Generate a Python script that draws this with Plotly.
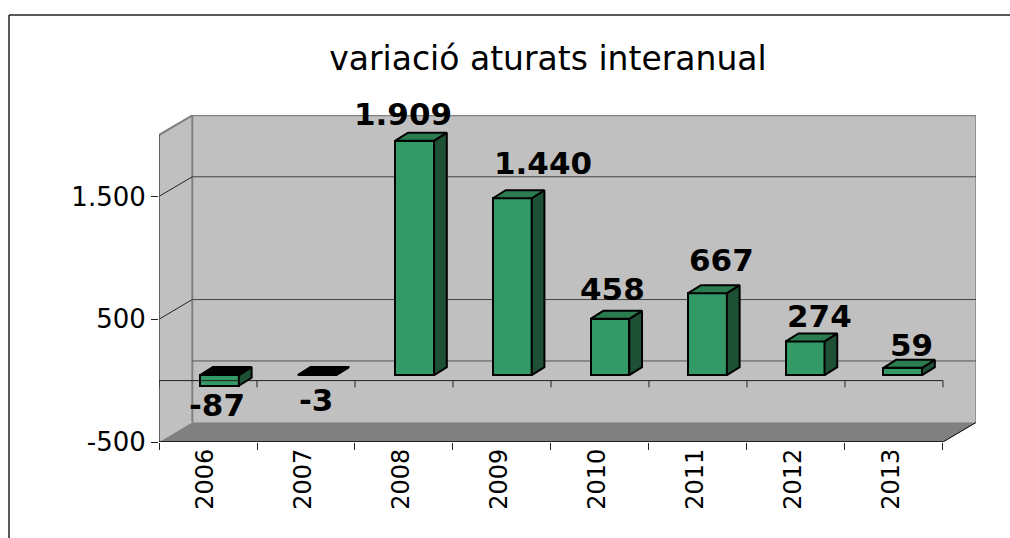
import plotly.graph_objects as go

# ---- data ----
YEARS = ["2006", "2007", "2008", "2009", "2010", "2011", "2012", "2013"]
VALUES = [-87, -3, 1909, 1440, 458, 667, 274, 59]
LABELS = ["-87", "-3", "1.909", "1.440", "458", "667", "274", "59"]
Y_TICKS = [-500, 500, 1500]
Y_TICK_LABELS = ["-500", "500", "1.500"]
TITLE = "variació aturats interanual"

# ---- hand-placed data label offsets (px) ----
LABEL_DX = [-3, -1, -12, 31, 3, 14, 14, 9]
LABEL_DY = [19, 25, -27, -35, -30, -33, -25, -23]

# ---- geometry of the pseudo-3D box, in axis units ----
N = len(YEARS)
FONT = "DejaVu Sans"
Y_MIN, Y_MAX = -500, 2000
Y_RANGE_TOP = 2163
X_RANGE_TOP = 8.337
WALL_DX, WALL_DY = 0.34, 160
BAR_START, BAR_PITCH, BAR_W = 0.42, 0.996, 0.395
BAR_DX, BAR_DY = 0.13, 65
BAR_BASE = 45
GREEN, GREEN_TOP, GREEN_SIDE = "#339966", "#2B7D50", "#1E5035"

fig = go.Figure()
shapes = []


def poly(points, fill, line=None, width=0):
    path = "M " + " L ".join(f"{x},{y}" for x, y in points) + " Z"
    shapes.append(dict(type="path", path=path, xref="x", yref="y", layer="below",
                       fillcolor=fill, line=dict(color=line or fill, width=width)))


def seg(x0, y0, x1, y1, color="black", width=1):
    shapes.append(dict(type="line", x0=x0, y0=y0, x1=x1, y1=y1, xref="x", yref="y",
                       layer="below", line=dict(color=color, width=width)))


# walls and floor
poly([(0, Y_MIN), (WALL_DX, Y_MIN + WALL_DY), (WALL_DX, Y_MAX + WALL_DY), (0, Y_MAX)], "#C0C0C0")
poly([(WALL_DX, Y_MIN + WALL_DY), (N + WALL_DX, Y_MIN + WALL_DY),
      (N + WALL_DX, Y_MAX + WALL_DY), (WALL_DX, Y_MAX + WALL_DY)], "#C0C0C0")
poly([(0, Y_MIN), (N, Y_MIN), (N + WALL_DX, Y_MIN + WALL_DY), (WALL_DX, Y_MIN + WALL_DY)], "#808080")

# wall edges
seg(WALL_DX, Y_MIN + WALL_DY, WALL_DX, Y_MAX + WALL_DY, "#808080", 2)
seg(WALL_DX, Y_MAX + WALL_DY, N + WALL_DX, Y_MAX + WALL_DY, "#808080", 2)
seg(N + WALL_DX, Y_MIN + WALL_DY, N + WALL_DX, Y_MAX + WALL_DY, "#808080", 2)
seg(0, Y_MAX, WALL_DX, Y_MAX + WALL_DY, "#808080", 2)

# gridlines on walls
for t in Y_TICKS[1:]:
    seg(0, t, WALL_DX, t + WALL_DY, "#222222", 1)
    seg(WALL_DX, t + WALL_DY, N + WALL_DX, t + WALL_DY, "#444444", 1)
seg(WALL_DX, WALL_DY, N + WALL_DX, WALL_DY, "#555555", 1)

# front axes
seg(0, Y_MIN, 0, Y_MAX, "#444444", 1.5)
seg(0, Y_MIN, N, Y_MIN, "black", 1.5)
seg(N, Y_MIN, N + WALL_DX, Y_MIN + WALL_DY, "black", 1)

# category axis at zero, with its ticks
zx, zy = [0, N, None], [0, 0, None]
for i in range(N + 1):
    zx += [i, i, None]
    zy += [0, -55, None]
fig.add_trace(go.Scatter(x=zx, y=zy, mode="lines", line=dict(color="#222222", width=1),
                         hoverinfo="skip", showlegend=False))

# bar fronts
xs0 = [BAR_START + i * BAR_PITCH for i in range(N)]
centers = [x + BAR_W / 2 for x in xs0]
fig.add_trace(go.Bar(x=centers, y=VALUES, base=BAR_BASE, width=BAR_W,
                     marker=dict(color=GREEN, line=dict(color="black", width=2)),
                     showlegend=False))

# bar sides and tops
for x0, v in zip(xs0, VALUES):
    x1 = x0 + BAR_W
    hi = BAR_BASE + max(v, 0)
    lo = BAR_BASE + min(v, 0)
    if hi - lo > 10:
        fig.add_trace(go.Scatter(
            x=[x1, x1, x1 + BAR_DX, x1 + BAR_DX, x1],
            y=[lo, hi, hi + BAR_DY, lo + BAR_DY, lo],
            mode="lines", fill="toself", fillcolor=GREEN_SIDE,
            line=dict(color="black", width=2), hoverinfo="skip", showlegend=False))
    fig.add_trace(go.Scatter(
        x=[x0, x1, x1 + BAR_DX, x0 + BAR_DX, x0],
        y=[hi, hi, hi + BAR_DY, hi + BAR_DY, hi],
        mode="lines", fill="toself", fillcolor=GREEN_TOP if v > 0 else "black",
        line=dict(color="black", width=2), hoverinfo="skip", showlegend=False))

# year labels sit on a second axis, tick marks on the first
fig.add_trace(go.Scatter(x=[0], y=[0], xaxis="x2", mode="markers", opacity=0,
                         hoverinfo="skip", showlegend=False))

annotations = [
    dict(x=c, y=BAR_BASE + v, xref="x", yref="y", text=lab, showarrow=False,
         xshift=dx, yshift=-dy, xanchor="center", yanchor="middle",
         font=dict(family=FONT, size=31, color="black", weight="bold"))
    for c, v, lab, dx, dy in zip(centers, VALUES, LABELS, LABEL_DX, LABEL_DY)
]

# outer frame (only the left and top edges are inside the picture)
FX, FY = -150 / 817, 427 / 327
shapes.append(dict(type="line", xref="paper", yref="paper", x0=FX, x1=FX, y0=-0.4, y1=FY,
                   layer="below", line=dict(color="#222222", width=1.5)))
shapes.append(dict(type="line", xref="paper", yref="paper", x0=FX, x1=1.1, y0=FY, y1=FY,
                   layer="below", line=dict(color="#222222", width=1.5)))

fig.update_layout(
    width=1010, height=538,
    margin=dict(l=159, r=34, t=115, b=96),
    paper_bgcolor="white", plot_bgcolor="rgba(0,0,0,0)",
    autosize=False, showlegend=False, bargap=0,
    font=dict(family=FONT, color="black"),
    title=dict(text=TITLE, x=548 / 1010, y=1 - 58 / 538,
               xanchor="center", yanchor="middle", xref="container", yref="container",
               font=dict(family=FONT, size=33, color="black")),
    xaxis=dict(range=[0, X_RANGE_TOP], tickmode="array", tickvals=list(range(N + 1)),
               ticktext=[""] * (N + 1), ticks="outside", ticklen=7, tickcolor="#222222",
               showgrid=False, zeroline=False, showline=False),
    xaxis2=dict(range=[0, X_RANGE_TOP], overlaying="x", anchor="y", side="bottom",
                tickmode="array", tickvals=[i + 0.47 for i in range(N)], ticktext=YEARS,
                tickangle=-90, ticks="", ticklabelstandoff=1,
                tickfont=dict(family=FONT, size=24, color="black"),
                showgrid=False, zeroline=False, showline=False),
    yaxis=dict(range=[Y_MIN, Y_RANGE_TOP], tickmode="array", tickvals=Y_TICKS,
               ticktext=Y_TICK_LABELS, ticks="outside", ticklen=7, tickcolor="#222222",
               tickfont=dict(family=FONT, size=26, color="black"),
               showgrid=False, zeroline=False, showline=False),
    shapes=shapes, annotations=annotations,
)

# remove the page's default body margin so the figure fills the window exactly
fig.write_html("out.html", config={"displayModeBar": False},
               post_script="document.body.style.margin='0';")
